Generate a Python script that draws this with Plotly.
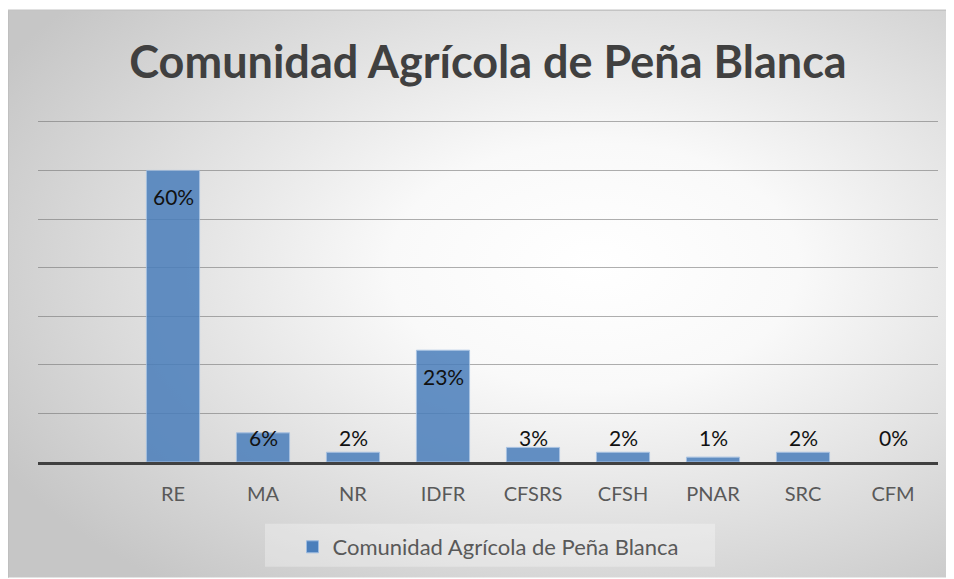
import base64
import plotly.graph_objects as go

categories = ["RE", "MA", "NR", "IDFR", "CFSRS", "CFSH", "PNAR", "SRC", "CFM"]
values = [60, 6, 2, 23, 3, 2, 1, 2, 0]
labels = ["60%", "6%", "2%", "23%", "3%", "2%", "1%", "2%", "0%"]
series_name = "Comunidad Agrícola de Peña Blanca"

# la página tiene un margen de 8 px, así que la figura empieza en (8, 8)
W, H = 946, 571
L, R, T, B = 30, 16, 109, 116
pw, ph = W - L - R, H - T - B


def px(x):  # posición horizontal en la página -> fracción del papel
    return (x - 8 - L) / pw


def py(y):  # posición vertical en la página -> fracción del papel
    return 1 - (y - 8 - T) / ph


# fondo con degradado radial (como en Excel)
svg = (
    "<svg xmlns='http://www.w3.org/2000/svg' width='946' height='569' "
    "viewBox='0 0 946 569' preserveAspectRatio='none'>"
    "<defs><radialGradient id='g' cx='0.62' cy='0.45' r='0.72'>"
    "<stop offset='0' stop-color='#ffffff'/>"
    "<stop offset='0.3' stop-color='#f9f9f9'/>"
    "<stop offset='1' stop-color='#c6c6c6'/>"
    "</radialGradient></defs>"
    "<rect width='946' height='569' fill='url(#g)'/></svg>"
)
bg_src = "data:image/svg+xml;base64," + base64.b64encode(svg.encode()).decode()

fig = go.Figure()
fig.add_trace(go.Bar(
    x=categories,
    y=values,
    name=series_name,
    marker=dict(color="#4a7ebb", opacity=0.85,
                line=dict(color="#9dbbe0", width=[1 if v > 0 else 0 for v in values])),
    hoverinfo="skip",
))

# etiquetas de datos (interior extremo, o sobre la base si la barra es pequeña)
for c, v, t in zip(categories, values, labels):
    big = v >= 10
    fig.add_annotation(
        x=c, y=v if big else 0, text=t, showarrow=False,
        yshift=-26 if big else 25,
        font=dict(family="Lato", size=21, color="#111111"),
    )

fig.add_layout_image(dict(
    source=bg_src, xref="paper", yref="paper",
    x=px(8), y=py(10), sizex=px(954) - px(8), sizey=py(10) - py(579),
    sizing="stretch", xanchor="left", yanchor="top", layer="below",
))

# marco y caja de la leyenda
fig.add_shape(type="line", xref="paper", yref="paper",
              x0=px(8), x1=px(8), y0=py(10), y1=py(579),
              line=dict(color="#bdbdbd", width=1.5))
fig.add_shape(type="line", xref="paper", yref="paper",
              x0=px(8), x1=px(954), y0=py(10), y1=py(10),
              line=dict(color="#c4c4c4", width=1.5))
fig.add_shape(type="rect", xref="paper", yref="paper",
              x0=px(265), x1=px(715), y0=py(525), y1=py(568),
              line=dict(width=0), fillcolor="rgba(255,255,255,0.3)", layer="below")

fig.update_layout(
    width=W, height=H,
    margin=dict(l=L, r=R, t=T, b=B),
    paper_bgcolor="white",
    plot_bgcolor="rgba(0,0,0,0)",
    title=dict(text="<b>Comunidad Agrícola de Peña Blanca</b>",
               x=0.5, xref="paper", y=1 - (62 - 8) / H, yref="container",
               xanchor="center", yanchor="middle",
               font=dict(family="Lato", size=45, color="#404040")),
    bargap=0.41,
    showlegend=True,
    legend=dict(orientation="h", x=0.5, xanchor="center",
                y=py(547), yanchor="middle",
                bgcolor="rgba(0,0,0,0)",
                font=dict(family="Lato", size=22, color="#595959")),
    xaxis=dict(range=[-1.5, 8.5], showgrid=False, showline=True,
               linecolor="#404040", linewidth=3, ticks="",
               ticklabelstandoff=12,
               tickfont=dict(family="Lato", size=20, color="#595959")),
    yaxis=dict(range=[0, 71], dtick=10, showticklabels=False,
               gridcolor="rgba(110,110,110,0.55)", gridwidth=1,
               zeroline=False, showline=False),
)

fig.write_html("out.html")
